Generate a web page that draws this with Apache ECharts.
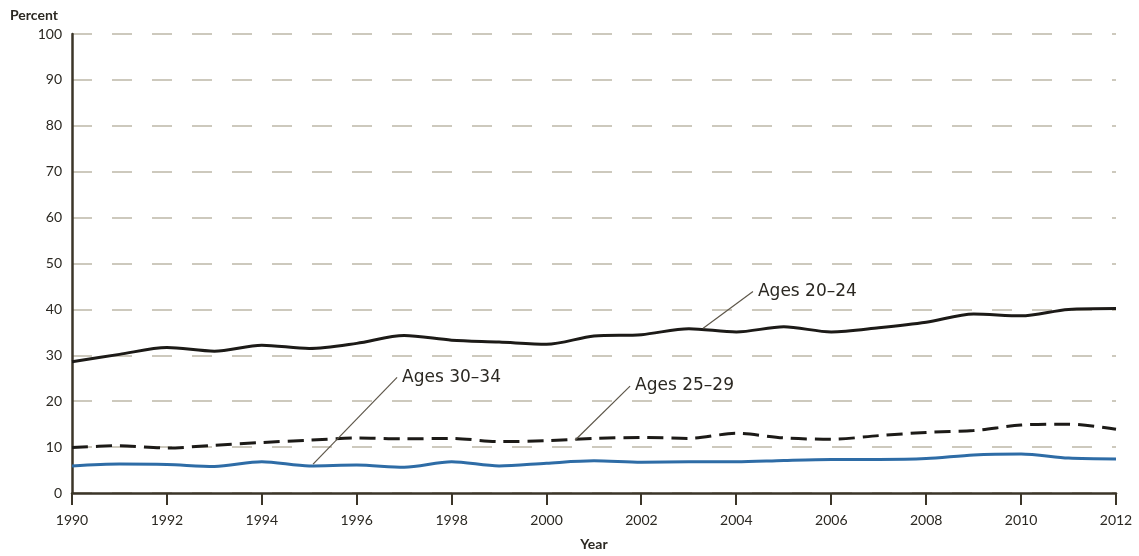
<!DOCTYPE html>
<html>
<head>
<meta charset="utf-8">
<script src="https://cdn.jsdelivr.net/npm/echarts@6/dist/echarts.min.js"></script>
<style>
  html, body { margin: 0; padding: 0; background: #fff; }
  #chart { width: 1139px; height: 556px; }
</style>
</head>
<body>
<div id="chart"></div>
<script>
// Data
const years = [1990, 1991, 1992, 1993, 1994, 1995, 1996, 1997, 1998, 1999, 2000,
  2001, 2002, 2003, 2004, 2005, 2006, 2007, 2008, 2009, 2010, 2011, 2012]
const ages2024 = [28.6, 30.2, 31.7, 30.9, 32.2, 31.5, 32.6, 34.3, 33.3, 32.9, 32.4,
  34.2, 34.5, 35.8, 35.1, 36.2, 35.1, 36.0, 37.2, 39.0, 38.6, 40.0, 40.2]
const ages2529 = [9.9, 10.3, 9.8, 10.4, 11.0, 11.5, 12.0, 11.8, 11.9, 11.2, 11.4,
  11.9, 12.1, 11.9, 13.0, 12.0, 11.7, 12.5, 13.2, 13.6, 14.8, 15.0, 13.9]
const ages3034 = [5.9, 6.3, 6.2, 5.8, 6.8, 5.9, 6.1, 5.6, 6.8, 5.9, 6.5,
  7.0, 6.7, 6.8, 6.8, 7.1, 7.3, 7.3, 7.5, 8.3, 8.5, 7.6, 7.4]
const xTicks = [1990, 1992, 1994, 1996, 1998, 2000, 2002, 2004, 2006, 2008, 2010, 2012]
const yTicks = [0, 10, 20, 30, 40, 50, 60, 70, 80, 90, 100]

// leader lines: [label, [x0, y0], [x1, y1]] in data units
const callouts = [
  ['Ages 20–24', [2003.3, 35.9], [2004.35, 43.9]],
  ['Ages 25–29', [2000.6, 11.5], [2001.76, 23.3]],
  ['Ages 30–34', [1995.08, 6.3], [1996.85, 25.2]]
]

const FONT = 'Lato, "Noto Sans", sans-serif'
const LABEL_FONT = '"DejaVu Sans", sans-serif'
const TEXT = '#2b2822'
const AXIS = '#3b3528'

const pair = (xs, ys) => xs.map((x, i) => [x, ys[i]])

// leader line from the curve out to the label
const calloutLine = (c) => ({
  silent: true,
  symbol: ['none', 'none'],
  lineStyle: { color: '#5e574a', width: 1.2, type: 'solid' },
  label: { show: false },
  data: [[{ coord: c[1] }, { coord: c[2] }]]
})

// label text sits just right of the line's end
const calloutText = (c) => ({
  silent: true,
  symbol: 'circle',
  symbolSize: 0,
  label: {
    show: true,
    position: 'right',
    distance: 5,
    formatter: c[0],
    color: TEXT,
    fontFamily: LABEL_FONT,
    fontSize: 17
  },
  data: [{ coord: c[2] }]
})

const chart = echarts.init(document.getElementById('chart'))

chart.setOption({
  animation: false,
  grid: { left: 72, right: 23, top: 34, bottom: 62 },
  xAxis: {
    type: 'value',
    min: xTicks[0],
    max: xTicks[xTicks.length - 1],
    interval: 2,
    name: 'Year',
    nameLocation: 'middle',
    nameGap: 44,
    nameTextStyle: { color: TEXT, fontFamily: FONT, fontSize: 14, fontWeight: 'bold' },
    axisLine: { show: true, onZero: false, lineStyle: { color: AXIS, width: 2.5 } },
    axisTick: { show: false },
    axisLabel: { color: TEXT, fontFamily: FONT, fontSize: 14, margin: 20, formatter: v => String(v) },
    splitLine: { show: false }
  },
  yAxis: {
    type: 'value',
    min: yTicks[0],
    max: yTicks[yTicks.length - 1],
    interval: 10,
    name: 'Percent',
    nameLocation: 'end',
    nameGap: 12,
    nameTextStyle: { color: TEXT, fontFamily: FONT, fontSize: 14, fontWeight: 'bold', align: 'left', padding: [0, 0, 0, -62] },
    axisLine: { show: true, lineStyle: { color: AXIS, width: 2.5 } },
    axisTick: { show: false },
    axisLabel: { color: TEXT, fontFamily: FONT, fontSize: 14, margin: 10 },
    splitLine: {
      show: true,
      lineStyle: { color: '#cdc9bd', width: 2, type: [20, 20] }
    }
  },
  series: [
    {
      name: 'Ages 20–24',
      type: 'line',
      data: pair(years, ages2024),
      smooth: 0.3,
      showSymbol: false,
      lineStyle: { color: '#1c1a17', width: 3 },
      markLine: calloutLine(callouts[0]),
      markPoint: calloutText(callouts[0]),
      z: 3
    },
    {
      name: 'Ages 25–29',
      type: 'line',
      data: pair(years, ages2529),
      smooth: 0.3,
      showSymbol: false,
      lineStyle: { color: '#1c1a17', width: 3, type: [16, 8] },
      markLine: calloutLine(callouts[1]),
      markPoint: calloutText(callouts[1]),
      z: 3
    },
    {
      name: 'Ages 30–34',
      type: 'line',
      data: pair(years, ages3034),
      smooth: 0.3,
      showSymbol: false,
      lineStyle: { color: '#2e6ca6', width: 3 },
      markLine: calloutLine(callouts[2]),
      markPoint: calloutText(callouts[2]),
      z: 3
    }
  ]
})

// tick marks below the year axis, placed through the axis scale
const tickMarks = xTicks.map(x => {
  const p = chart.convertToPixel({ gridIndex: 0 }, [x, yTicks[0]])
  return {
    type: 'rect',
    silent: true,
    z: 100,
    shape: { x: Math.round(p[0]) - 1, y: Math.round(p[1]), width: 2, height: 12 },
    style: { fill: AXIS }
  }
})
chart.setOption({ graphic: { elements: tickMarks } })
</script>
</body>
</html>
